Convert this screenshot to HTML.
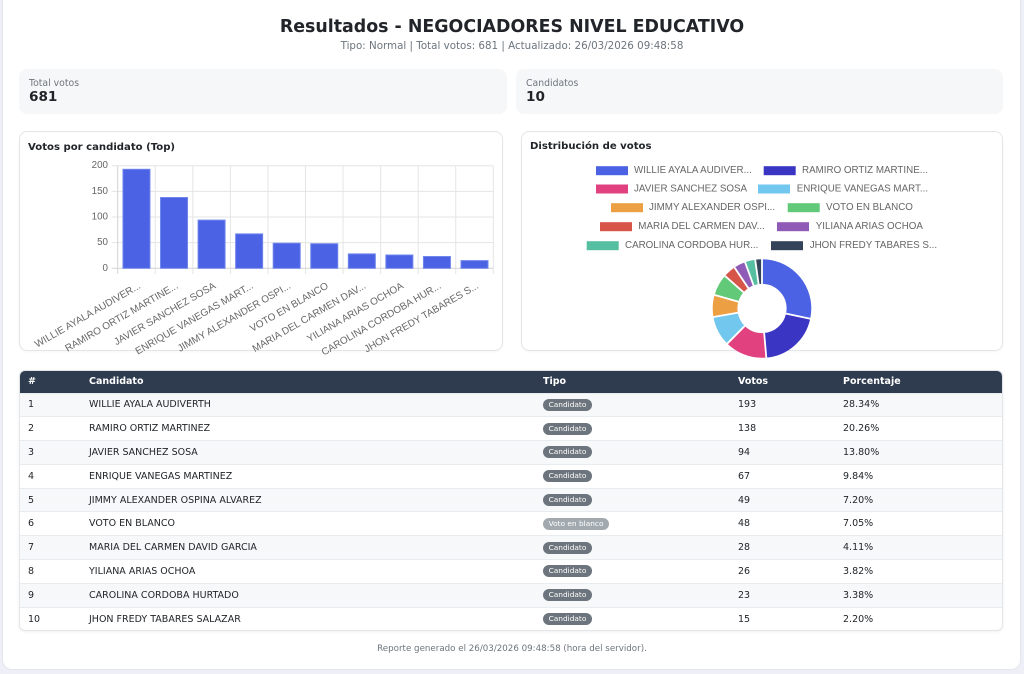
<!DOCTYPE html>
<html><head><meta charset="utf-8"><style>
*{box-sizing:border-box;margin:0;padding:0}
html,body{width:1024px;height:674px;overflow:hidden;background:#eff0f7}
body{position:relative;font-family:"DejaVu Sans","Liberation Sans",sans-serif;color:#212529}
.wrap{position:absolute;left:2px;top:-10px;width:1019px;height:680px;background:#fff;border:1px solid #e4e5ee;border-radius:10px}
.abs{position:absolute}
.title{left:0;width:1024px;top:16px;text-align:center;font-weight:bold;font-size:17.4px;line-height:22px;color:#212529}
.sub{left:0;width:1024px;top:39px;text-align:center;font-size:10.3px;line-height:14px;color:#6c757d}
.stat{background:#f6f7f9;border-radius:8px;height:45px;top:69px}
.stat .l{position:absolute;left:10px;top:9px;font-size:9.3px;line-height:12px;color:#6c757d}
.stat .v{position:absolute;left:10px;top:20px;font-size:13.6px;line-height:17px;font-weight:bold;color:#212529}
.card{background:#fff;border:1px solid #e3e5e9;border-radius:8px;top:131px;height:220px;box-shadow:0 1px 2px rgba(0,0,0,0.03)}
.ct{font-weight:bold;font-size:10.1px;line-height:13px;color:#212529}
.tbl{left:19px;top:370px;width:984px;height:261px;border:1px solid #e3e5e9;border-radius:6px;overflow:hidden;box-shadow:0 1px 3px rgba(0,0,0,0.06)}
table{border-collapse:collapse;table-layout:fixed;width:984px;font-size:9.5px}
th{background:#2f3c50;color:#fff;font-weight:bold;text-align:left;height:22px;padding:0 0 0 8px}
td{height:23.8px;padding:0 0 0 8px;border-top:1px solid #e9ecef;color:#212529}
tr.o td{background:#f7f8fa}
.b{display:inline-block;background:#6c757d;color:#fff;font-size:7.4px;line-height:12px;height:12px;padding:0 5.6px;border-radius:6px;vertical-align:middle}
.b.w{background:#a2aaaf}
.foot{left:0;width:1024px;top:643px;text-align:center;font-size:8.7px;line-height:12px;color:#6c757d}
svg{position:absolute;left:0;top:0}
</style></head><body>
<div class="wrap"></div>
<div class="abs title">Resultados - NEGOCIADORES NIVEL EDUCATIVO</div>
<div class="abs sub">Tipo: Normal | Total votos: 681 | Actualizado: 26/03/2026 09:48:58</div>

<div class="abs stat" style="left:19px;width:488px"><div class="l">Total votos</div><div class="v">681</div></div>
<div class="abs stat" style="left:516px;width:487px"><div class="l">Candidatos</div><div class="v">10</div></div>

<div class="abs card" style="left:19px;width:484px"></div>
<div class="abs card" style="left:521px;width:482px"></div>
<div class="abs ct" style="left:28px;top:141px">Votos por candidato (Top)</div>
<div class="abs ct" style="left:530px;top:140px">Distribución de votos</div>

<svg width="1024" height="674" viewBox="0 0 1024 674" font-family="Liberation Sans, sans-serif">
 <g stroke="#e5e5e5" stroke-width="1">
  <line x1="111.7" y1="165.7" x2="493.3" y2="165.7"/>
  <line x1="111.7" y1="191.35" x2="493.3" y2="191.35"/>
  <line x1="111.7" y1="217" x2="493.3" y2="217"/>
  <line x1="111.7" y1="242.65" x2="493.3" y2="242.65"/>
  <line x1="155.26" y1="165.7" x2="155.26" y2="274"/>
  <line x1="192.82" y1="165.7" x2="192.82" y2="274"/>
  <line x1="230.38" y1="165.7" x2="230.38" y2="274"/>
  <line x1="267.94" y1="165.7" x2="267.94" y2="274"/>
  <line x1="305.5" y1="165.7" x2="305.5" y2="274"/>
  <line x1="343.06" y1="165.7" x2="343.06" y2="274"/>
  <line x1="380.62" y1="165.7" x2="380.62" y2="274"/>
  <line x1="418.18" y1="165.7" x2="418.18" y2="274"/>
  <line x1="455.74" y1="165.7" x2="455.74" y2="274"/>
  <line x1="493.3" y1="165.7" x2="493.3" y2="274"/>
 </g>
 <g stroke="#d4d4d4" stroke-width="1">
  <line x1="117.7" y1="165.7" x2="117.7" y2="274"/>
  <line x1="111.7" y1="268.3" x2="493.3" y2="268.3"/>
 </g>
 <g font-size="9.8" fill="#666" text-anchor="end" dominant-baseline="central">
  <text x="108" y="165.7">200</text>
  <text x="108" y="191.35">150</text>
  <text x="108" y="217">100</text>
  <text x="108" y="242.65">50</text>
  <text x="108" y="268.3">0</text>
 </g>
 <g fill="#4a62e3" stroke="#7086ec" stroke-width="1">
  <rect x="122.96" y="169.3" width="27" height="99"/>
  <rect x="160.52" y="197.5" width="27" height="70.8"/>
  <rect x="198.08" y="220.1" width="27" height="48.2"/>
  <rect x="235.64" y="233.9" width="27" height="34.4"/>
  <rect x="273.2" y="243.2" width="27" height="25.1"/>
  <rect x="310.76" y="243.7" width="27" height="24.6"/>
  <rect x="348.32" y="253.9" width="27" height="14.4"/>
  <rect x="385.88" y="255" width="27" height="13.3"/>
  <rect x="423.44" y="256.5" width="27" height="11.8"/>
  <rect x="461" y="260.6" width="27" height="7.7"/>
 </g>
 <g font-size="10" fill="#666" text-anchor="end" dominant-baseline="central">
  <text transform="translate(140,285.5) rotate(-30)">WILLIE AYALA AUDIVER...</text>
  <text transform="translate(177.5,285.5) rotate(-30)">RAMIRO ORTIZ MARTINE...</text>
  <text transform="translate(215.1,285.5) rotate(-30)">JAVIER SANCHEZ SOSA</text>
  <text transform="translate(252.7,285.5) rotate(-30)">ENRIQUE VANEGAS MART...</text>
  <text transform="translate(290.2,285.5) rotate(-30)">JIMMY ALEXANDER OSPI...</text>
  <text transform="translate(327.8,285.5) rotate(-30)">VOTO EN BLANCO</text>
  <text transform="translate(365.3,285.5) rotate(-30)">MARIA DEL CARMEN DAV...</text>
  <text transform="translate(402.9,285.5) rotate(-30)">YILIANA ARIAS OCHOA</text>
  <text transform="translate(440.5,285.5) rotate(-30)">CAROLINA CORDOBA HUR...</text>
  <text transform="translate(478,285.5) rotate(-30)">JHON FREDY TABARES S...</text>
 </g>

 <g font-size="9.8" fill="#666" dominant-baseline="central">
  <rect x="596" y="166.2" width="32" height="9" fill="#4a62e3"/><text x="634" y="170.7">WILLIE AYALA AUDIVER...</text>
  <rect x="763.7" y="166.2" width="32" height="9" fill="#3b35c4"/><text x="802" y="170.7">RAMIRO ORTIZ MARTINE...</text>
  <rect x="596" y="184.5" width="32" height="9" fill="#e1417f"/><text x="634" y="189">JAVIER SANCHEZ SOSA</text>
  <rect x="758" y="184.5" width="32" height="9" fill="#72c7ef"/><text x="796.7" y="189">ENRIQUE VANEGAS MART...</text>
  <rect x="611" y="203.2" width="32" height="9" fill="#eca043"/><text x="649" y="207.7">JIMMY ALEXANDER OSPI...</text>
  <rect x="787.7" y="203.2" width="32" height="9" fill="#61c977"/><text x="826" y="207.7">VOTO EN BLANCO</text>
  <rect x="600" y="222.2" width="32" height="9" fill="#d75448"/><text x="638.3" y="226.7">MARIA DEL CARMEN DAV...</text>
  <rect x="777" y="222.2" width="32" height="9" fill="#8f5bb6"/><text x="815.7" y="226.7">YILIANA ARIAS OCHOA</text>
  <rect x="586.7" y="241.2" width="32" height="9" fill="#56bea1"/><text x="625" y="245.7">CAROLINA CORDOBA HUR...</text>
  <rect x="771" y="241.2" width="32" height="9" fill="#334359"/><text x="809.7" y="245.7">JHON FREDY TABARES S...</text>
 </g>

 <g transform="translate(762,308.5)">
  <g transform="rotate(-90)" fill="none" stroke-width="24.7">
   <circle r="36.95" stroke="#4a62e3" stroke-dasharray="65.80 300" stroke-dashoffset="0"/>
   <circle r="36.95" stroke="#3b35c4" stroke-dasharray="47.04 300" stroke-dashoffset="-65.80"/>
   <circle r="36.95" stroke="#e1417f" stroke-dasharray="32.05 300" stroke-dashoffset="-112.84"/>
   <circle r="36.95" stroke="#72c7ef" stroke-dasharray="22.84 300" stroke-dashoffset="-144.89"/>
   <circle r="36.95" stroke="#eca043" stroke-dasharray="16.70 300" stroke-dashoffset="-167.73"/>
   <circle r="36.95" stroke="#61c977" stroke-dasharray="16.36 300" stroke-dashoffset="-184.43"/>
   <circle r="36.95" stroke="#d75448" stroke-dasharray="9.55 300" stroke-dashoffset="-200.79"/>
   <circle r="36.95" stroke="#8f5bb6" stroke-dasharray="8.86 300" stroke-dashoffset="-210.34"/>
   <circle r="36.95" stroke="#56bea1" stroke-dasharray="7.84 300" stroke-dashoffset="-219.20"/>
   <circle r="36.95" stroke="#334359" stroke-dasharray="5.11 300" stroke-dashoffset="-227.04"/>
  </g>
  <g stroke="#fff" stroke-width="1.8">
   <line x1="0" y1="-24" x2="0" y2="-50" transform="rotate(0)"/>
   <line x1="0" y1="-24" x2="0" y2="-50" transform="rotate(102.03)"/>
   <line x1="0" y1="-24" x2="0" y2="-50" transform="rotate(174.98)"/>
   <line x1="0" y1="-24" x2="0" y2="-50" transform="rotate(224.67)"/>
   <line x1="0" y1="-24" x2="0" y2="-50" transform="rotate(260.09)"/>
   <line x1="0" y1="-24" x2="0" y2="-50" transform="rotate(285.99)"/>
   <line x1="0" y1="-24" x2="0" y2="-50" transform="rotate(311.37)"/>
   <line x1="0" y1="-24" x2="0" y2="-50" transform="rotate(326.17)"/>
   <line x1="0" y1="-24" x2="0" y2="-50" transform="rotate(339.91)"/>
   <line x1="0" y1="-24" x2="0" y2="-50" transform="rotate(352.07)"/>
  </g>
 </g>
</svg>

<div class="abs tbl">
<table>
<colgroup><col style="width:61px"><col style="width:454px"><col style="width:195px"><col style="width:105px"><col style="width:169px"></colgroup>
<tr><th>#</th><th>Candidato</th><th>Tipo</th><th>Votos</th><th>Porcentaje</th></tr>
<tr class="o"><td>1</td><td>WILLIE AYALA AUDIVERTH</td><td><span class="b">Candidato</span></td><td>193</td><td>28.34%</td></tr>
<tr><td>2</td><td>RAMIRO ORTIZ MARTINEZ</td><td><span class="b">Candidato</span></td><td>138</td><td>20.26%</td></tr>
<tr class="o"><td>3</td><td>JAVIER SANCHEZ SOSA</td><td><span class="b">Candidato</span></td><td>94</td><td>13.80%</td></tr>
<tr><td>4</td><td>ENRIQUE VANEGAS MARTINEZ</td><td><span class="b">Candidato</span></td><td>67</td><td>9.84%</td></tr>
<tr class="o"><td>5</td><td>JIMMY ALEXANDER OSPINA ALVAREZ</td><td><span class="b">Candidato</span></td><td>49</td><td>7.20%</td></tr>
<tr><td>6</td><td>VOTO EN BLANCO</td><td><span class="b w">Voto en blanco</span></td><td>48</td><td>7.05%</td></tr>
<tr class="o"><td>7</td><td>MARIA DEL CARMEN DAVID GARCIA</td><td><span class="b">Candidato</span></td><td>28</td><td>4.11%</td></tr>
<tr><td>8</td><td>YILIANA ARIAS OCHOA</td><td><span class="b">Candidato</span></td><td>26</td><td>3.82%</td></tr>
<tr class="o"><td>9</td><td>CAROLINA CORDOBA HURTADO</td><td><span class="b">Candidato</span></td><td>23</td><td>3.38%</td></tr>
<tr><td>10</td><td>JHON FREDY TABARES SALAZAR</td><td><span class="b">Candidato</span></td><td>15</td><td>2.20%</td></tr>
</table>
</div>

<div class="abs foot">Reporte generado el 26/03/2026 09:48:58 (hora del servidor).</div>
</body></html>
